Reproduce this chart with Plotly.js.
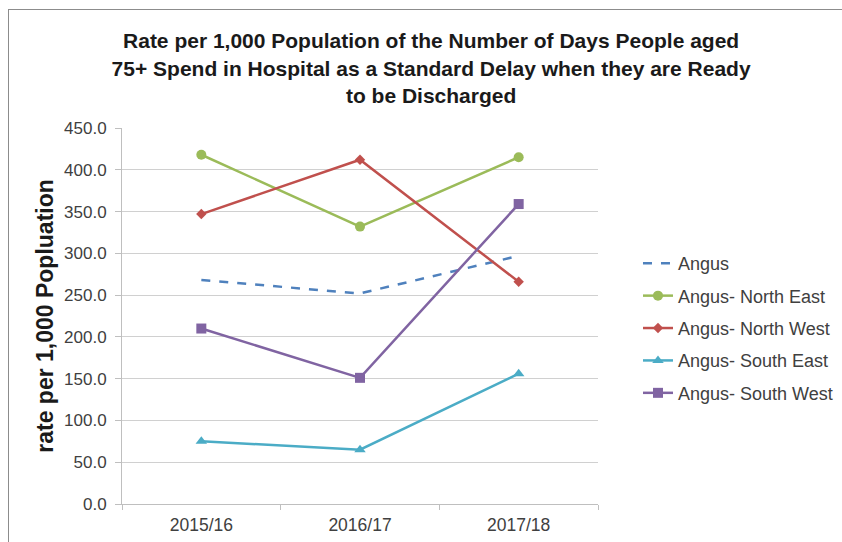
<!DOCTYPE html>
<html>
<head>
<meta charset="utf-8">
<script src="https://cdn.plot.ly/plotly-3.0.1.min.js"></script>
<style>
html,body{margin:0;padding:0;background:#fff;}
#wrap{position:relative;width:842px;height:542px;overflow:hidden;}
#frame{position:absolute;left:8px;top:9px;width:840px;height:560px;border:1px solid #8c8c8c;box-sizing:border-box;pointer-events:none;}
#chart{position:absolute;left:0;top:0;width:842px;height:542px;}
</style>
</head>
<body>
<div id="wrap">
<div id="chart"></div>
<div id="frame"></div>
</div>
<script>
const categories = ["2015/16", "2016/17", "2017/18"];
const angus = [268, 252, 297];
const northEast = [418, 332, 415];
const northWest = [347, 412, 266];
const southEast = [75, 65, 156];
const southWest = [210, 151, 359];
const yTickVals = [0, 50, 100, 150, 200, 250, 300, 350, 400, 450];
const yTickText = ["0.0", "50.0", "100.0", "150.0", "200.0", "250.0", "300.0", "350.0", "400.0", "450.0"];

const seriesNames = ["Angus", "Angus- North East", "Angus- North West", "Angus- South East", "Angus- South West"];
const seriesData = [angus, northEast, northWest, southEast, southWest];
const colors = ["#4F81BD", "#9BBB59", "#C0504D", "#4BACC6", "#8064A2"];
const symbols = [null, "circle", "diamond", "triangle-up", "square"];
const sizes = [0, 10, 8, 10, 10];

const traces = seriesData.map((vals, i) => {
  const t = {
    type: "scatter",
    x: categories,
    y: vals,
    name: seriesNames[i],
    legendgroup: "g" + i,
    line: {color: colors[i], width: 2.5, dash: i === 0 ? "dash" : "solid"},
    mode: i === 0 ? "lines" : "lines+markers"
  };
  if (i > 0) t.marker = {symbol: symbols[i], size: sizes[i], color: colors[i]};
  return t;
});

const layout = {
  width: 842,
  height: 542,
  paper_bgcolor: "#ffffff",
  plot_bgcolor: "#ffffff",
  margin: {l: 122, r: 244, t: 128, b: 38, autoexpand: false},
  font: {family: "Liberation Sans, Arial, sans-serif", color: "#404040", size: 17},
  title: {
    text: "Rate per 1,000 Population of the Number of Days People aged<br>75+ Spend in Hospital as a Standard Delay when they are Ready<br>to be Discharged",
    font: {family: "Liberation Sans, Arial, sans-serif", size: 21, color: "#1a1a1a", weight: "bold"},
    x: 0.512, xanchor: "center",
    y: 0.911, yanchor: "middle"
  },
  xaxis: {
    type: "category",
    showgrid: false,
    showline: true,
    linecolor: "#bfbfbf",
    linewidth: 1,
    ticks: "outside",
    tickson: "boundaries",
    ticklen: 5,
    tickcolor: "#bfbfbf",
    tickfont: {size: 17.5, color: "#404040"},
    ticklabelstandoff: 5,
    range: [-0.5, 2.5],
    zeroline: false
  },
  yaxis: {
    range: [0, 450],
    tickvals: yTickVals,
    ticktext: yTickText,
    showgrid: true,
    gridcolor: "#d0d0d0",
    gridwidth: 1,
    showline: true,
    linecolor: "#bfbfbf",
    ticks: "outside",
    ticklen: 6,
    tickcolor: "#bfbfbf",
    tickfont: {size: 17, color: "#404040"},
    ticklabelstandoff: 5,
    zeroline: false,
    title: {
      text: "rate per 1,000 Popluation",
      font: {family: "Liberation Sans, Arial, sans-serif", size: 23, color: "#1a1a1a", weight: "bold"},
      standoff: 4
    }
  },
  legend: {
    x: 1.084, xanchor: "left",
    y: 0.468, yanchor: "middle",
    font: {size: 18, color: "#404040"},
    tracegroupgap: 6,
    bgcolor: "rgba(0,0,0,0)"
  },
  showlegend: true
};

Plotly.newPlot("chart", traces, layout, {displayModeBar: false, staticPlot: true});
</script>
</body>
</html>
